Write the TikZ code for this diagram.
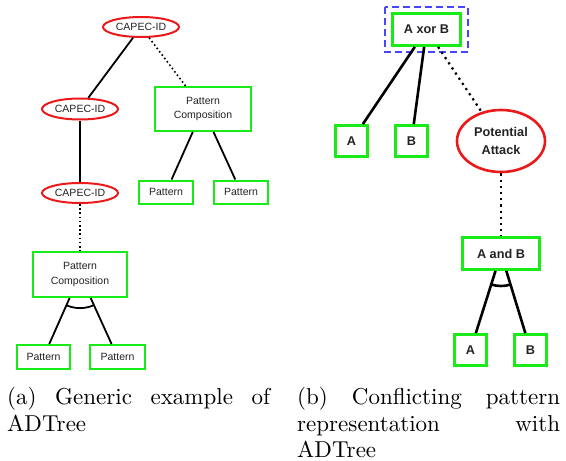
\documentclass[tikz,border=0pt]{standalone}
\usepackage{graphicx}
\usepackage{fontspec}
\newfontfamily\nodefont{Liberation Sans}
\usetikzlibrary{shapes.geometric}
\definecolor{boxgreen}{RGB}{25,235,25}
\definecolor{ovalred}{RGB}{235,25,25}
\definecolor{selblue}{RGB}{70,70,255}
\definecolor{txt}{RGB}{35,35,35}
\newcommand{\capbox}[1]{\scalebox{2.3}{\fontsize{10}{12}\selectfont #1}}
\begin{document}
\begin{tikzpicture}[x=1pt,y=-1pt,
  lbox/.style={draw=boxgreen, line width=2pt, fill=white, rectangle, inner sep=0pt,
    align=center, text=txt, font=\nodefont\fontsize{10.5}{14.5}\selectfont},
  loval/.style={draw=ovalred, line width=2pt, fill=white, ellipse, inner sep=0pt,
    minimum width=76pt, minimum height=20pt, text=txt, font=\nodefont\fontsize{10.5}{14.5}\selectfont},
  rbox/.style={draw=boxgreen, line width=2.8pt, fill=white, rectangle, inner sep=0pt,
    align=center, text=txt, font=\nodefont\bfseries\fontsize{12.7}{18}\selectfont},
  roval/.style={draw=ovalred, line width=2.6pt, fill=white, ellipse, inner sep=0pt,
    align=center, text=txt, font=\nodefont\bfseries\fontsize{12.7}{18}\selectfont},
  lsolid/.style={line width=1.8pt},
  ldot/.style={line width=1.6pt, dash pattern=on 1.6pt off 2.6pt},
  rsolid/.style={line width=2.6pt},
  rdot/.style={line width=2.2pt, dash pattern=on 2.2pt off 4pt},
  capline/.style={anchor=base west, inner sep=0pt}
]
\useasboundingbox (0,0) rectangle (566,461);

% ---------- (a) ----------
\node[loval] (c1) at (141,27) {CAPEC-ID};
\node[loval, minimum height=21pt] (c2) at (80,109) {CAPEC-ID};
\node[loval] (c3) at (80,193) {CAPEC-ID};
\node[lbox, minimum width=96pt, minimum height=44pt] (pc1) at (203,109) {Pattern\\Composition};
\node[lbox, minimum width=54pt, minimum height=23pt] (p1) at (166,192) {Pattern};
\node[lbox, minimum width=54pt, minimum height=23pt] (p2) at (241,192) {Pattern};
\node[lbox, minimum width=94pt, minimum height=45pt] (pc2) at (80,274.5) {Pattern\\Composition};
\node[lbox, minimum width=53pt, minimum height=24pt] (p3) at (43.5,357) {Pattern};
\node[lbox, minimum width=55pt, minimum height=24pt] (p4) at (117.5,357) {Pattern};

\draw[lsolid] (c1) -- (c2);
\draw[ldot] (c1) -- (pc1);
\draw[lsolid] (c2) -- (c3);
\draw[lsolid] (pc1) -- (p1);
\draw[lsolid] (pc1) -- (p2);
\draw[ldot] (c3) -- (pc2);
\draw[lsolid] (pc2) -- (p3);
\draw[lsolid] (pc2) -- (p4);
\draw[lsolid] ([shift={(65.6:33.6)}]pc2.center) arc[start angle=65.6, end angle=113.9, radius=33.6];

% ---------- (b) ----------
\node[rbox, minimum width=68pt, minimum height=32pt] (xor) at (426.5,29.5) {A xor B};
\draw[selblue, line width=1.5pt, dash pattern=on 7pt off 4pt] (385,7) rectangle (468,52);
\node[rbox, minimum width=32pt, minimum height=31pt] (a1) at (351.5,141) {A};
\node[rbox, minimum width=32pt, minimum height=31pt] (b1) at (411.5,141) {B};
\node[roval, minimum width=88pt, minimum height=62pt] (pa) at (501,141) {Potential\\Attack};
\node[rbox, minimum width=77pt, minimum height=32pt] (and) at (501,253.5) {A and B};
\node[rbox, minimum width=32pt, minimum height=31pt] (a2) at (470.5,350) {A};
\node[rbox, minimum width=32pt, minimum height=31pt] (b2) at (530.5,350) {B};

\draw[rsolid] (xor) -- (a1);
\draw[rsolid] (xor) -- (b1);
\draw[rdot] (xor) -- (pa);
\draw[rdot] (pa) -- (and);
\draw[rsolid] (and) -- (a2);
\draw[rsolid] (and) -- (b2);
\draw[rsolid] ([shift={(73.0:32.5)}]and.center) arc[start angle=73.0, end angle=107.5, radius=32.5];

% ---------- captions ----------
\node[capline] (capa1) at (7,404.5) {\capbox{\hbox to 114.3pt{(a)\hfil Generic\hfil example\hfil of}}};
\node[capline] (capa2) at (7,431) {\capbox{ADTree}};
\node[capline] (capb1) at (297,404.5) {\capbox{\hbox to 114.3pt{(b)\hfil Conflicting\hfil pattern}}};
\node[capline] (capb2) at (297,431) {\capbox{\hbox to 114.3pt{representation\hfil with}}};
\node[capline] (capb3) at (297,457.5) {\capbox{ADTree}};
\end{tikzpicture}
\end{document}
